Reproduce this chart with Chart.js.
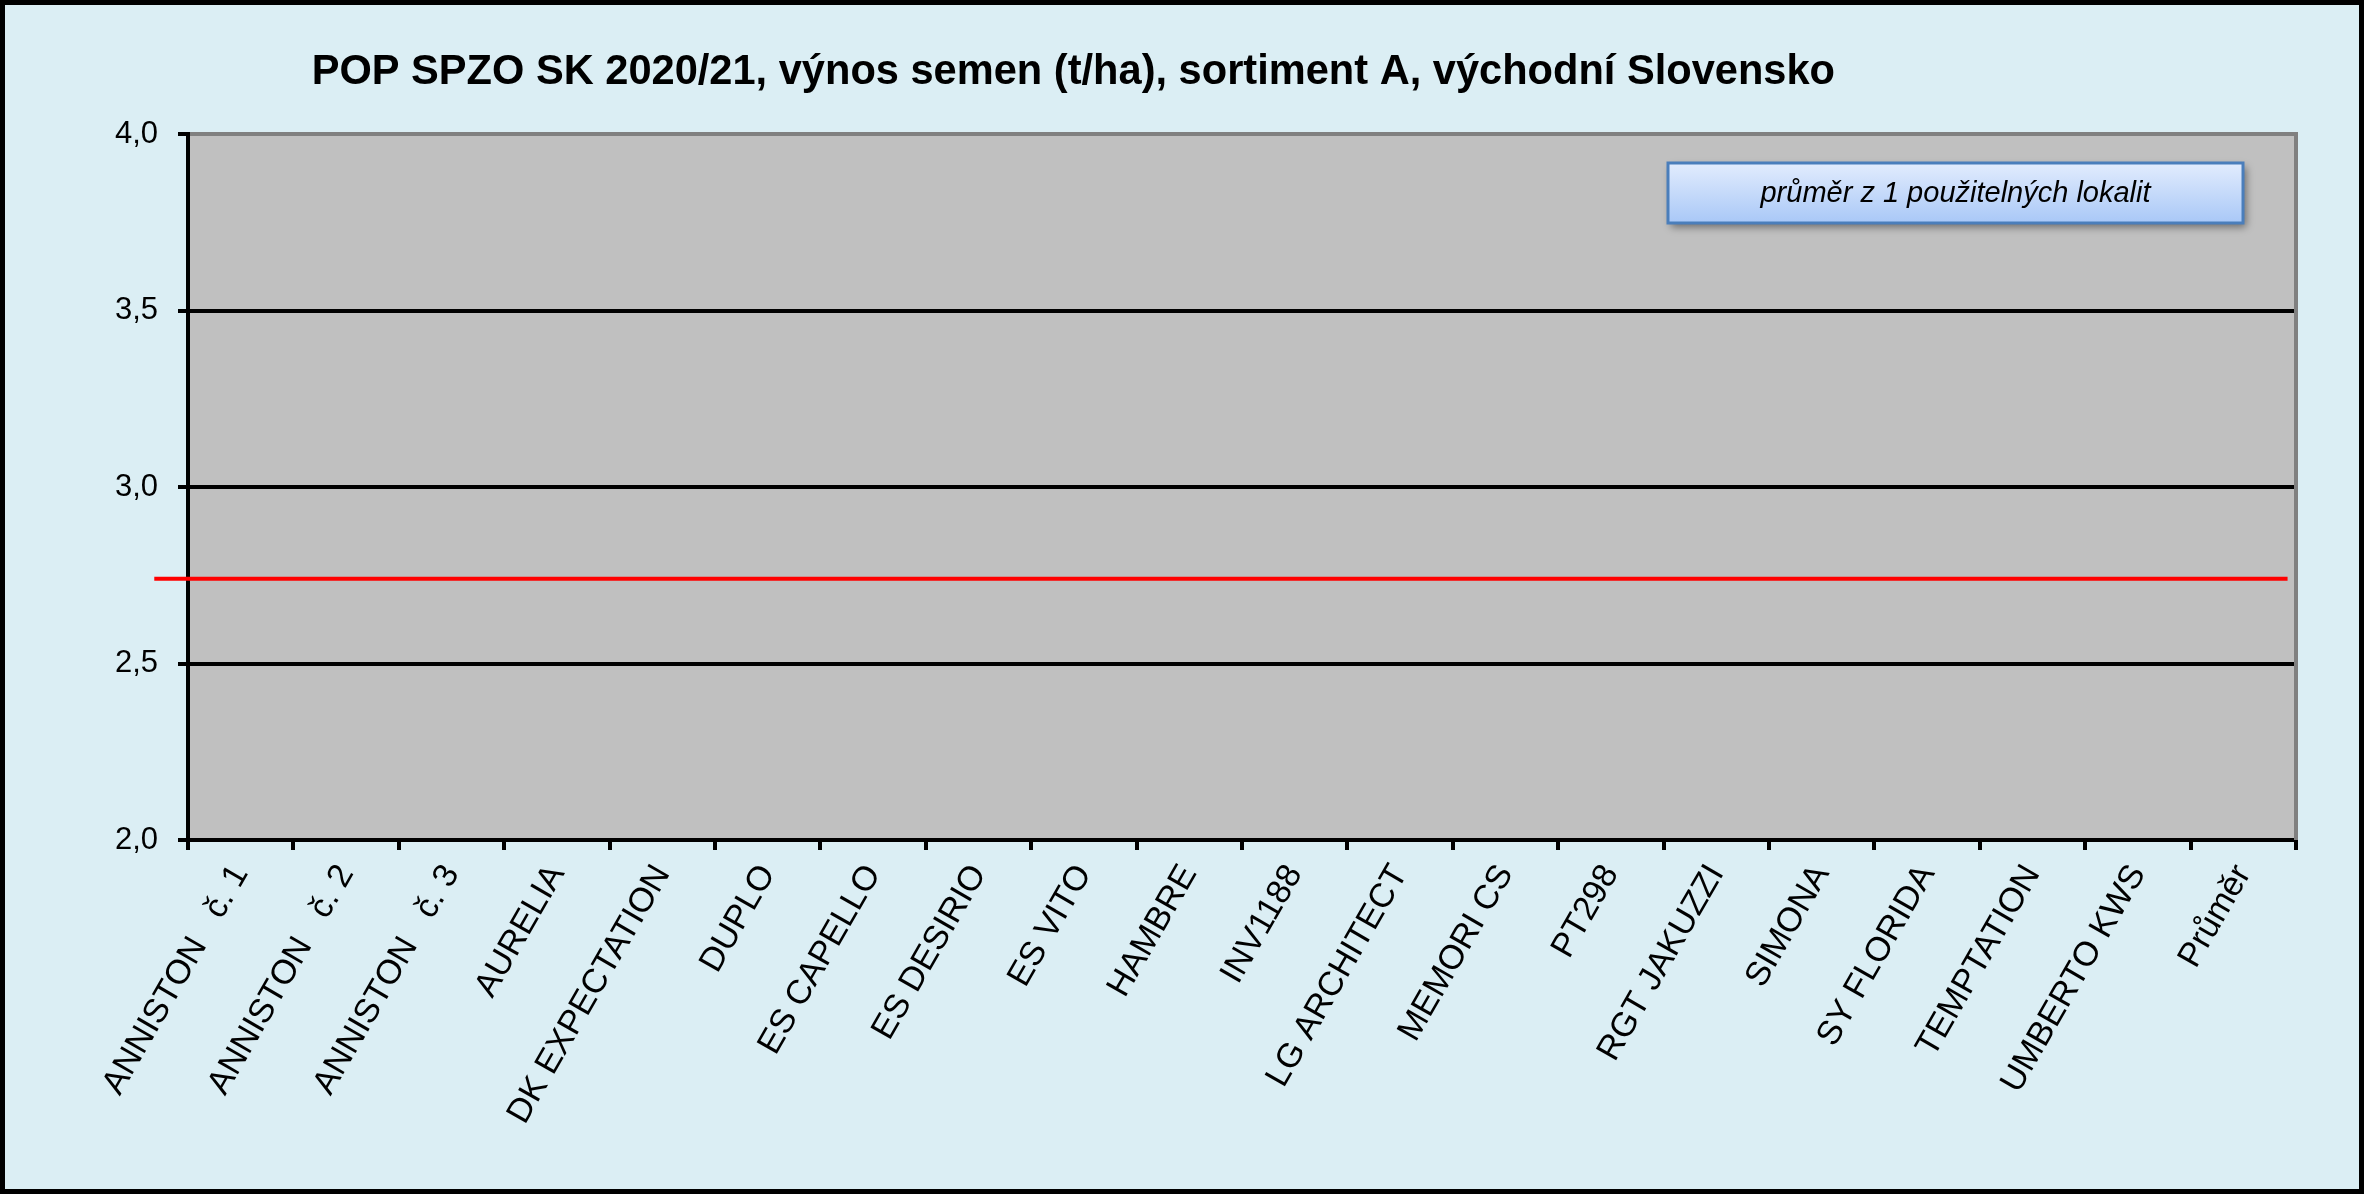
<!DOCTYPE html>
<html>
<head>
    <meta charset="utf-8">
    <title>POP SPZO SK 2020/21 - výnos semen</title>
    <script src="https://cdn.jsdelivr.net/npm/chart.js"></script>
    <style>
        html, body { margin: 0; padding: 0; background: #dbeef4; }
        canvas { display: block; }
    </style>
</head>
<body>
    <canvas id="yieldChart" width="2364" height="1194"></canvas>

    <script>
        // odrůdy na ose x
        var varieties = [
            'ANNISTON   č. 1', 'ANNISTON   č. 2', 'ANNISTON   č. 3', 'AURELIA',
            'DK EXPECTATION', 'DUPLO', 'ES CAPELLO', 'ES DESIRIO', 'ES VITO',
            'HAMBRE', 'INV1188', 'LG ARCHITECT', 'MEMORI CS', 'PT298',
            'RGT JAKUZZI', 'SIMONA', 'SY FLORIDA', 'TEMPTATION', 'UMBERTO KWS', 'Průměr'
        ];
        // výnos (t/ha) - v grafu není vidět žádný sloupec
        var yieldValues = [null, null, null, null, null, null, null, null, null, null,
                           null, null, null, null, null, null, null, null, null, null];
        // průměrná čára
        var averageYield = 2.74;
        var averageSpan = [-0.016, 0.996]; // od-do, podíl šířky osy x
        var yMin = 2.0, yMax = 4.0, yStep = 0.5;

        var titleText = 'POP SPZO SK 2020/21, výnos semen (t/ha), sortiment A, východní Slovensko';
        var noteText = 'průměr z 1 použitelných lokalit';
        var fontFamily = "'Liberation Sans', Arial, sans-serif";

        var framePlugin = {
            id: 'frame',
            beforeDraw: function (chart) {
                var c = chart.ctx, a = chart.chartArea;
                c.save();
                c.fillStyle = '#dbeef4';
                c.fillRect(0, 0, chart.width, chart.height);
                c.fillStyle = '#c0c0c0';
                c.fillRect(a.left, a.top, a.right - a.left, a.bottom - a.top);
                c.restore();
            },
            beforeDatasetsDraw: function (chart) {
                var c = chart.ctx, a = chart.chartArea;
                c.save();
                c.strokeStyle = '#808080';
                c.lineWidth = 4;
                c.beginPath();
                c.moveTo(a.right, a.top - 2);
                c.lineTo(a.right, a.bottom);
                c.stroke();
                c.restore();
            },
            afterDraw: function (chart) {
                var c = chart.ctx, a = chart.chartArea;
                c.save();
                // nadpis
                c.fillStyle = '#000';
                c.font = 'bold 41.6px ' + fontFamily;
                c.textAlign = 'center';
                c.textBaseline = 'middle';
                c.fillText(titleText, a.left + (a.right - a.left) * 0.42, 73);

                // rámeček s poznámkou
                var bw = 575, bh = 60;
                var bx = a.right - 53 - bw, by = a.top + 29;
                c.shadowColor = 'rgba(0,0,0,0.45)';
                c.shadowBlur = 8;
                c.shadowOffsetX = 3;
                c.shadowOffsetY = 4;
                var g = c.createLinearGradient(0, by, 0, by + bh);
                g.addColorStop(0, '#e2ecfd');
                g.addColorStop(1, '#a9c8f7');
                c.fillStyle = g;
                c.fillRect(bx, by, bw, bh);
                c.shadowColor = 'transparent';
                c.strokeStyle = '#4a7ebb';
                c.lineWidth = 3;
                c.strokeRect(bx, by, bw, bh);
                c.fillStyle = '#000';
                c.font = 'italic 29px ' + fontFamily;
                c.fillText(noteText, bx + bw / 2, by + bh / 2 + 1);

                // vnější rámeček
                c.strokeStyle = '#000';
                c.lineWidth = 5;
                c.strokeRect(2.5, 2.5, chart.width - 5, chart.height - 5);
                c.restore();
            }
        };

        var ctx = document.getElementById('yieldChart').getContext('2d');
        var chart = new Chart(ctx, {
            type: 'bar',
            data: {
                labels: varieties,
                datasets: [
                    {
                        label: 'výnos',
                        data: yieldValues,
                        backgroundColor: '#4f81bd'
                    },
                    {
                        type: 'line',
                        label: 'průměr',
                        xAxisID: 'xAvg',
                        data: averageSpan.map(function (x) { return { x: x, y: averageYield }; }),
                        borderColor: '#ff0000',
                        borderWidth: 4,
                        pointRadius: 0,
                        clip: false
                    }
                ]
            },
            options: {
                responsive: false,
                devicePixelRatio: 1,
                animation: false,
                layout: { padding: { left: 0, right: 68, top: 134, bottom: 0 } },
                plugins: {
                    legend: { display: false },
                    title: { display: false },
                    tooltip: { enabled: false }
                },
                scales: {
                    x: {
                        offset: true,
                        grid: {
                            offset: true,
                            drawOnChartArea: false,
                            color: '#000',
                            lineWidth: 4,
                            tickLength: 10
                        },
                        border: { color: '#000', width: 4 },
                        ticks: {
                            autoSkip: false,
                            minRotation: 60,
                            maxRotation: 60,
                            padding: 8,
                            color: '#000',
                            font: { family: fontFamily, size: 34 }
                        },
                        afterFit: function (scale) { scale.height = 354; }
                    },
                    xAvg: {
                        type: 'linear',
                        display: false,
                        offset: false,
                        min: 0,
                        max: 1
                    },
                    y: {
                        min: yMin,
                        max: yMax,
                        ticks: {
                            stepSize: yStep,
                            padding: 20,
                            color: '#000',
                            font: { family: fontFamily, size: 31 },
                            callback: function (v) { return v.toFixed(1).replace('.', ','); }
                        },
                        grid: {
                            color: function (c) { return c.tick && c.tick.value === yMax ? '#808080' : '#000'; },
                            tickColor: '#000',
                            lineWidth: 4,
                            tickLength: 10
                        },
                        border: { color: '#000', width: 4 },
                        afterFit: function (scale) { scale.width = 188; }
                    }
                }
            },
            plugins: [framePlugin]
        });
    </script>
</body>
</html>
